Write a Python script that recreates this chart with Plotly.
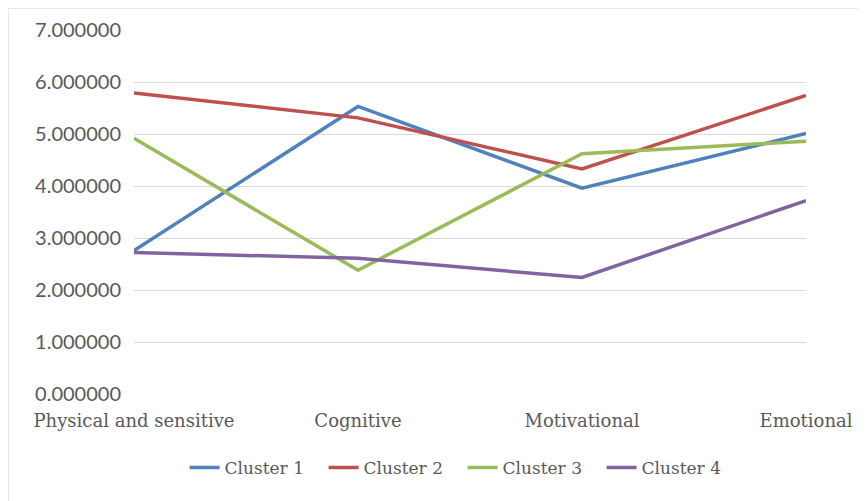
import plotly.graph_objects as go

categories = ["Physical and sensitive", "Cognitive", "Motivational", "Emotional"]
cluster1 = [2.76, 5.53, 3.96, 5.01]
cluster2 = [5.79, 5.31, 4.33, 5.74]
cluster3 = [4.92, 2.38, 4.62, 4.86]
cluster4 = [2.72, 2.61, 2.24, 3.72]
series_names = ["Cluster 1", "Cluster 2", "Cluster 3", "Cluster 4"]
colors = ["#4F81BD", "#C0504D", "#9BBB59", "#8064A2"]

fig = go.Figure()
for name, vals, col in zip(series_names, [cluster1, cluster2, cluster3, cluster4], colors):
    fig.add_trace(go.Scatter(x=categories, y=vals, name=name, mode="lines",
                             line=dict(color=col, width=3.5)))

fig.update_layout(
    width=866, height=501,
    margin=dict(l=126, r=68, t=22, b=115, autoexpand=False),
    paper_bgcolor="white", plot_bgcolor="white",
    showlegend=True,
    legend=dict(orientation="h", x=0.489, xanchor="center", y=-0.203, yanchor="middle",
                font=dict(family="DejaVu Serif", size=17, color="#595959"),
                entrywidth=94, entrywidthmode="pixels", itemwidth=30),
    xaxis=dict(type="category", range=[0, 3], showgrid=False, showline=False, zeroline=False,
               automargin=False,
               ticks="outside", ticklen=10, tickcolor="rgba(0,0,0,0)",
               tickfont=dict(family="DejaVu Serif", size=18, color="#595959")),
    yaxis=dict(range=[0, 7], dtick=1, tickformat=".6f", showgrid=True, gridcolor="#D9D9D9",
               gridwidth=1.2, zeroline=False, showline=False, automargin=False,
               ticks="outside", ticklen=8, tickcolor="rgba(0,0,0,0)",
               tickfont=dict(family="Lato", size=20, color="#595959")),
    shapes=[dict(type="rect", xref="paper", yref="paper", x0=-0.1868, x1=1.0878, y0=-0.5, y1=1.059,
                 line=dict(color="#E6E6E6", width=1), layer="below")],
)
fig.write_html("out.html")
